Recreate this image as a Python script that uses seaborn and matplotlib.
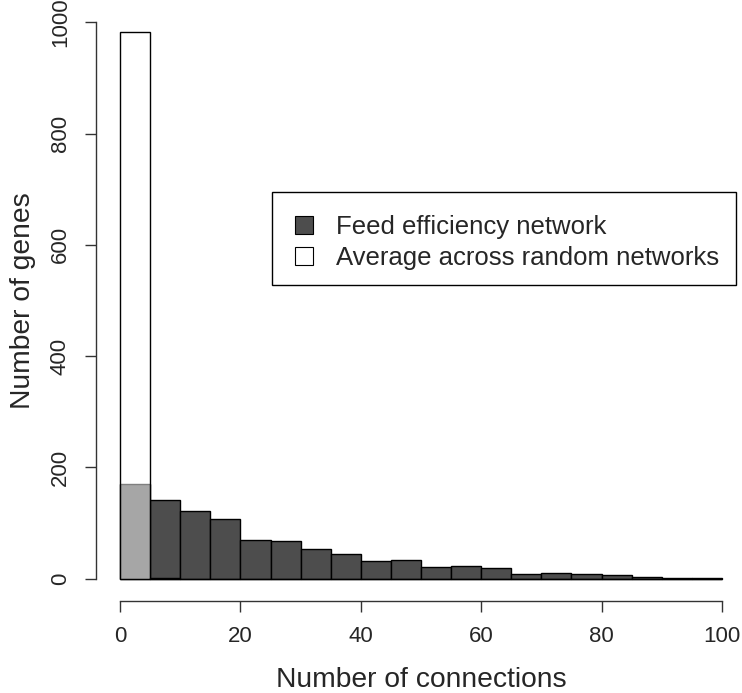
import numpy as np
import matplotlib
matplotlib.use("Agg")
import matplotlib.pyplot as plt
import seaborn as sns
from matplotlib.patches import Patch, Rectangle

# ---- data (bin counts, bins of width 5 from 0 to 100) ----
bin_edges = list(range(0, 105, 5))
feed_counts = [171, 142, 121, 108, 70, 67, 54, 44, 31, 34, 21, 22, 19, 9, 11, 8, 6, 4, 1, 2]
random_counts = [983, 2, 0, 0, 0, 0, 0, 0, 0, 0, 0, 0, 0, 0, 0, 0, 0, 0, 0, 0]
series_labels = ["Feed efficiency network", "Average across random networks"]
x_ticks = [0, 20, 40, 60, 80, 100]
y_ticks = [0, 200, 400, 600, 800, 1000]

sns.set_style("white")
plt.rcParams['font.family'] = ['Liberation Sans', 'DejaVu Sans']

W, H = 742, 693
fig = plt.figure(figsize=(W / 100, H / 100), dpi=100)
ax = fig.add_axes([96 / W, (H - 601) / H, 650 / W, 601 / H])

centers = [(a + b) / 2 for a, b in zip(bin_edges[:-1], bin_edges[1:])]

n0 = len(ax.patches)
sns.histplot(x=centers, weights=feed_counts, bins=bin_edges, ax=ax)
for p in ax.patches[n0:]:
    p.set_facecolor("#4d4d4d")
    p.set_edgecolor("black")
    p.set_alpha(None)
    p.set_linewidth(1.0)
n1 = len(ax.patches)
sns.histplot(x=centers, weights=random_counts, bins=bin_edges, ax=ax)
for p in ax.patches[n1:]:
    p.set_alpha(None)
    p.set_facecolor((1, 1, 1, 0.5))
    p.set_edgecolor("black")
    p.set_linewidth(1.0)

ax.set_xlim(-4, 104)
ax.set_ylim(-40, 1040)

for s in ["top", "right"]:
    ax.spines[s].set_visible(False)
ax.spines["left"].set_bounds(0, 1000)
ax.spines["bottom"].set_bounds(0, 100)
for s in ["left", "bottom"]:
    ax.spines[s].set_color("#333333")
    ax.spines[s].set_linewidth(1.0)

ax.set_xticks(x_ticks)
ax.set_yticks(y_ticks)
ax.set_yticklabels([str(v) for v in y_ticks], rotation=90, va="center")
ax.tick_params(axis="both", which="both", direction="out", length=8, width=1.0,
               color="#333333", labelsize=16, left=True, bottom=True)
ax.tick_params(axis="x", pad=10)
ax.tick_params(axis="y", pad=10)

ax.set_xlabel("Number of connections", fontsize=20.3, labelpad=14.5)
ax.set_ylabel("Number of genes", fontsize=20.3, labelpad=10)

handles = [Patch(facecolor="#4d4d4d", edgecolor="black", linewidth=0.8),
           Patch(facecolor="white", edgecolor="black", linewidth=0.8)]
leg = ax.legend(handles, series_labels, loc="upper left",
                bbox_to_anchor=(272 / W, 1 - 192 / H), bbox_transform=fig.transFigure,
                fontsize=18.5, frameon=False,
                handlelength=0.7, handleheight=0.7,
                handletextpad=0.9, borderpad=0.9, labelspacing=0.25, borderaxespad=0)
fig.add_artist(Rectangle((272 / W, 1 - 285 / H), 464 / W, 93 / H,
                         transform=fig.transFigure, fill=False,
                         edgecolor="black", linewidth=1.0))

fig.savefig("out.png", dpi=100)
